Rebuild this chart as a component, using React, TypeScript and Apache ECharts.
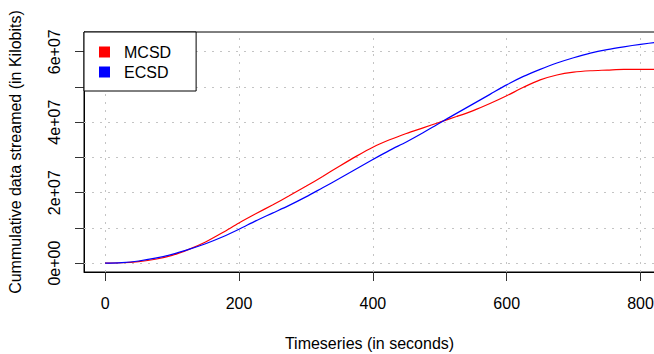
import React, { useEffect, useRef } from "react";
import * as echarts from "echarts";

// Timeseries (seconds)
const timeSeconds = [
  0, 25, 50, 75, 100, 125, 150, 175, 200, 225, 250, 275, 300, 325, 350, 375, 400,
  425, 450, 475, 500, 525, 550, 575, 600, 625, 650, 675, 700, 725, 750, 775, 800,
  825, 850,
];

// Cumulative data streamed (Kilobits)
const mcsdValues = [
  0, 1.0e5, 4.5e5, 1.1e6, 2.2e6, 3.9e6, 6.0e6, 8.6e6, 1.14e7, 1.4e7, 1.65e7,
  1.91e7, 2.18e7, 2.46e7, 2.75e7, 3.03e7, 3.29e7, 3.5e7, 3.68e7, 3.84e7, 4.0e7,
  4.16e7, 4.33e7, 4.53e7, 4.75e7, 4.99e7, 5.2e7, 5.34e7, 5.42e7, 5.46e7, 5.48e7,
  5.5e7, 5.5e7, 5.5e7, 5.5e7,
];
const ecsdValues = [
  0, 1.5e5, 6.0e5, 1.4e6, 2.5e6, 3.9e6, 5.5e6, 7.4e6, 9.6e6, 1.2e7, 1.42e7,
  1.64e7, 1.88e7, 2.14e7, 2.4e7, 2.67e7, 2.94e7, 3.2e7, 3.44e7, 3.7e7, 3.98e7,
  4.25e7, 4.52e7, 4.79e7, 5.06e7, 5.3e7, 5.5e7, 5.68e7, 5.83e7, 5.96e7, 6.06e7,
  6.14e7, 6.21e7, 6.27e7, 6.32e7,
];

const seriesNames = ["MCSD", "ECSD"];

const xTickValues = [0, 200, 400, 600, 800];
const yTickValues = [0, 1e7, 2e7, 3e7, 4e7, 5e7, 6e7];
const yLabelValues = [0, 2e7, 4e7, 6e7];
const yTickLabels = ["0e+00", "2e+07", "4e+07", "6e+07"];

const FONT = "'Liberation Sans', Arial, Helvetica, sans-serif";

export default function App() {
  const ref = useRef<HTMLDivElement>(null);

  useEffect(() => {
    document.body.style.margin = "0";
    if (!ref.current) return;
    const chart = echarts.init(ref.current, null, { renderer: "svg" });

    const mcsd = timeSeconds.map((t, i) => [t, mcsdValues[i]]);
    const ecsd = timeSeconds.map((t, i) => [t, ecsdValues[i]]);

    const gridMarks = [
      ...xTickValues.map((v) => ({ xAxis: v })),
      ...yTickValues.map((v) => ({ yAxis: v })),
    ];

    chart.setOption({
      animation: false,
      textStyle: { fontFamily: FONT },
      grid: {
        left: 84,
        right: -1,
        top: 32,
        bottom: 82,
        show: true,
        borderColor: "#000",
        borderWidth: 1,
        containLabel: false,
        outerBoundsMode: "none",
      },
      legend: {
        data: seriesNames,
        left: 84,
        top: 32,
        orient: "vertical",
        icon: "rect",
        itemWidth: 11,
        itemHeight: 11,
        itemGap: 4,
        padding: [12, 25, 11, 15],
        borderColor: "#000",
        borderWidth: 1,
        borderRadius: 0,
        backgroundColor: "#fff",
        z: 10,
        selectedMode: false,
        textStyle: {
          fontSize: 16,
          color: "#000",
          fontFamily: FONT,
          lineHeight: 16,
          padding: [0, 0, 0, 9],
        },
      },
      xAxis: {
        type: "value",
        min: -31.6,
        max: 821.6,
        name: "Timeseries (in seconds)",
        nameLocation: "middle",
        nameGap: 63,
        nameTextStyle: { fontSize: 16, color: "#000", fontFamily: FONT },
        axisLine: { show: true, onZero: false, lineStyle: { color: "#000", width: 1 } },
        axisTick: {
          show: true,
          length: 9,
          customValues: xTickValues,
          lineStyle: { color: "#333", width: 1 },
        },
        axisLabel: {
          customValues: xTickValues,
          fontSize: 16,
          color: "#000",
          fontFamily: FONT,
          margin: 23,
        },
        splitLine: { show: false },
      },
      yAxis: {
        type: "value",
        min: -2.52e6,
        max: 6.56e7,
        name: "Cummulative data streamed (in Kilobits)",
        nameLocation: "middle",
        nameRotate: 90,
        nameGap: 61,
        nameTextStyle: { fontSize: 16, color: "#000", fontFamily: FONT },
        axisLine: { show: true, onZero: false, lineStyle: { color: "#000", width: 1 } },
        axisTick: {
          show: true,
          length: 9,
          customValues: yTickValues,
          lineStyle: { color: "#333", width: 1 },
        },
        axisLabel: {
          customValues: yLabelValues,
          rotate: 90,
          fontSize: 16,
          color: "#000",
          fontFamily: FONT,
          margin: 22,
          formatter: (v: number) => {
            const idx = yLabelValues.indexOf(v);
            return idx >= 0 ? yTickLabels[idx] : "";
          },
        },
        splitLine: { show: false },
      },
      series: [
        {
          type: "line",
          data: [],
          z: 1,
          silent: true,
          markLine: {
            silent: true,
            z: 1,
            symbol: "none",
            label: { show: false },
            lineStyle: { color: "#c4c4c4", type: [2, 6], width: 1 },
            data: gridMarks,
          },
        },
        {
          name: seriesNames[0],
          type: "line",
          data: mcsd,
          showSymbol: false,
          smooth: 0.3,
          z: 6,
          itemStyle: { color: "#ff0000" },
          lineStyle: { color: "#ff0000", width: 1.2 },
        },
        {
          name: seriesNames[1],
          type: "line",
          data: ecsd,
          showSymbol: false,
          smooth: 0.3,
          z: 6,
          itemStyle: { color: "#0000ff" },
          lineStyle: { color: "#0000ff", width: 1.2 },
        },
      ],
    });

    return () => chart.dispose();
  }, []);

  return (
    <div
      ref={ref}
      style={{ position: "absolute", left: 0, top: 0, width: 654, height: 354 }}
    />
  );
}
